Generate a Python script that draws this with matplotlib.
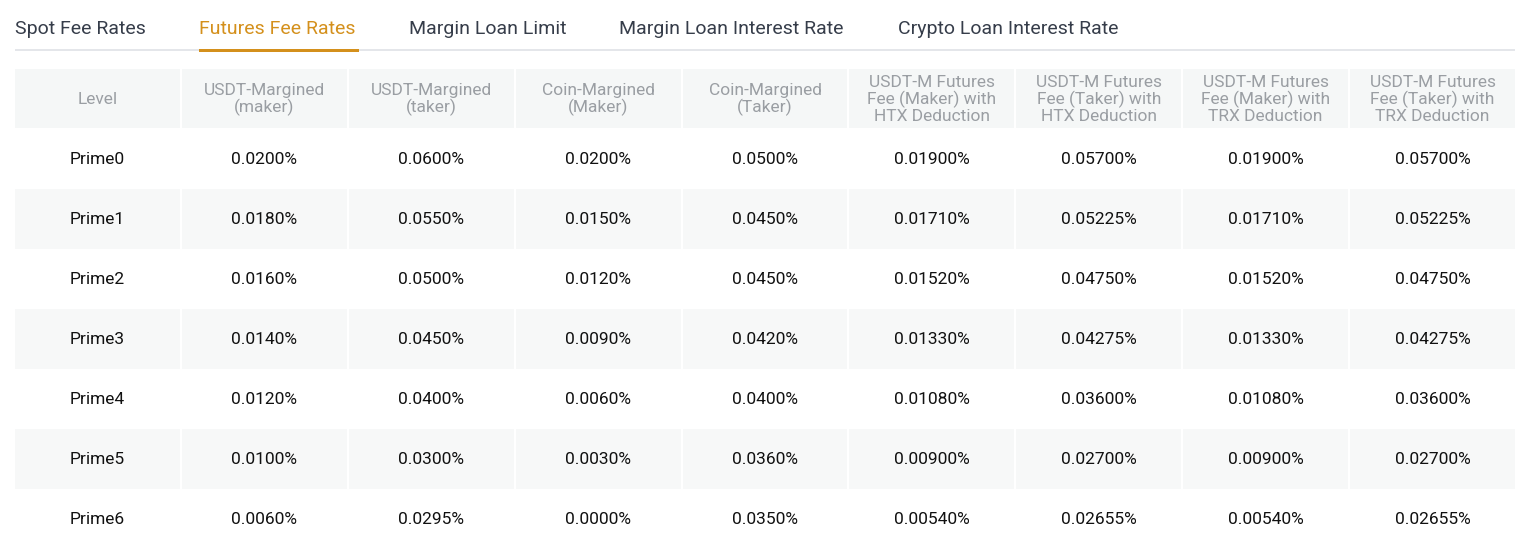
import matplotlib
matplotlib.use("Agg")
import matplotlib.pyplot as plt
from matplotlib.patches import Rectangle

tabs = ["Spot Fee Rates", "Futures Fee Rates", "Margin Loan Limit", "Margin Loan Interest Rate", "Crypto Loan Interest Rate"]
tab_x = [15, 199, 409, 619, 898]
headers = ["Level", "USDT-Margined\n(maker)", "USDT-Margined\n(taker)", "Coin-Margined\n(Maker)", "Coin-Margined\n(Taker)",
           "USDT-M Futures\nFee (Maker) with\nHTX Deduction", "USDT-M Futures\nFee (Taker) with\nHTX Deduction",
           "USDT-M Futures\nFee (Maker) with\nTRX Deduction", "USDT-M Futures\nFee (Taker) with\nTRX Deduction"]
levels = ["Prime0", "Prime1", "Prime2", "Prime3", "Prime4", "Prime5", "Prime6"]
usdt_maker = ["0.0200%", "0.0180%", "0.0160%", "0.0140%", "0.0120%", "0.0100%", "0.0060%"]
usdt_taker = ["0.0600%", "0.0550%", "0.0500%", "0.0450%", "0.0400%", "0.0300%", "0.0295%"]
coin_maker = ["0.0200%", "0.0150%", "0.0120%", "0.0090%", "0.0060%", "0.0030%", "0.0000%"]
coin_taker = ["0.0500%", "0.0450%", "0.0450%", "0.0420%", "0.0400%", "0.0360%", "0.0350%"]
htx_maker = ["0.01900%", "0.01710%", "0.01520%", "0.01330%", "0.01080%", "0.00900%", "0.00540%"]
htx_taker = ["0.05700%", "0.05225%", "0.04750%", "0.04275%", "0.03600%", "0.02700%", "0.02655%"]
trx_maker = ["0.01900%", "0.01710%", "0.01520%", "0.01330%", "0.01080%", "0.00900%", "0.00540%"]
trx_taker = ["0.05700%", "0.05225%", "0.04750%", "0.04275%", "0.03600%", "0.02700%", "0.02655%"]
columns = [levels, usdt_maker, usdt_taker, coin_maker, coin_taker, htx_maker, htx_taker, trx_maker, trx_taker]

W, H = 1524, 545
fig = plt.figure(figsize=(W/100, H/100), dpi=100)
ax = fig.add_axes([0, 0, 1, 1])
ax.set_xlim(0, W); ax.set_ylim(H, 0); ax.axis("off")
FONT = "Roboto"

# tabs
for i, (t, x) in enumerate(zip(tabs, tab_x)):
    ax.text(x, 28.5, t, fontsize=14, family=FONT, color="#d4901c" if i == 1 else "#363d4a",
            va="center", ha="left")
ax.add_patch(Rectangle((15, 48.5), 1500, 2.5, color="#e4e6ea", lw=0))
ax.add_patch(Rectangle((199, 48.5), 160, 3.5, color="#d4901c", lw=0))

x0, colw, gap = 15, 1502/9, 2
top, hh, rh = 69, 59, 60
for c in range(9):
    cx = x0 + c*colw
    ax.add_patch(Rectangle((cx, top), colw-gap, hh, color="#f5f7f7", lw=0))
    ax.text(cx + (colw-gap)/2, top + hh/2 + 1, headers[c], fontsize=12.5, family=FONT, color="#9a9ea3",
            ha="center", va="center", linespacing=1.07)
    for r in range(7):
        ry = top + hh + 1 + r*rh
        if r % 2 == 1:
            ax.add_patch(Rectangle((cx, ry), colw-gap, rh, color="#f7f8f8", lw=0))
        ax.text(cx + (colw-gap)/2, ry + rh/2, columns[c][r], fontsize=12.5, family=FONT,
                color="#111111", ha="center", va="center")

fig.savefig("out.png", dpi=100)
